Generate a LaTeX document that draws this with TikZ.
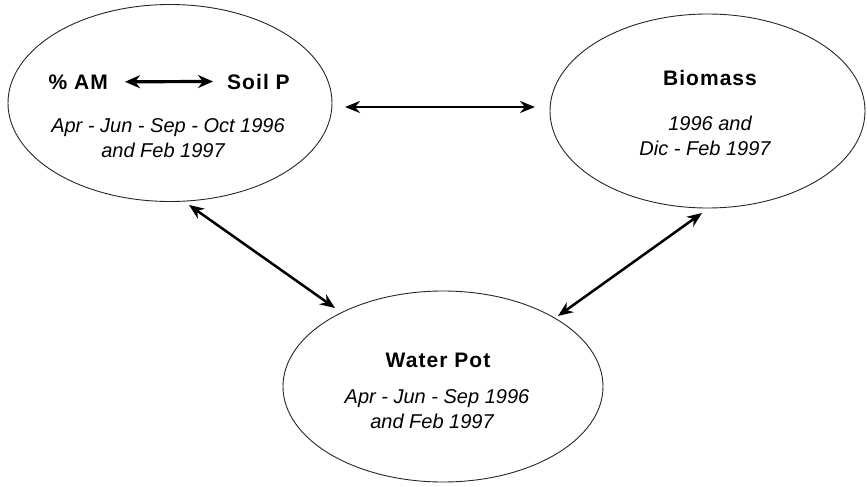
\documentclass[tikz,border=0pt]{standalone}
\usepackage{fontspec}
\setmainfont{Liberation Sans}
\newfontfamily\titlefont[LetterSpace=5]{Liberation Sans}
\usetikzlibrary{shapes.geometric,arrows.meta}
\tikzset{
  bubble/.style={draw=black!85, line width=0.9pt, ellipse, inner sep=0pt},
  ttl/.style={inner sep=0pt, font=\titlefont\fontsize{21}{25}\selectfont\bfseries},
  sub/.style={inner sep=0pt, anchor=base, font=\fontsize{20}{24}\selectfont\itshape},
  bigarr/.style={line width=2.5pt, {Stealth[length=15pt,width=12pt]}-{Stealth[length=15pt,width=12pt]}},
  inarr/.style={line width=3.2pt, {Stealth[length=15pt,width=13pt]}-{Stealth[length=15pt,width=13pt]}}
}
\begin{document}
\begin{tikzpicture}[x=1pt,y=-1pt]
\useasboundingbox (0,0) rectangle (867,487);
% ellipses
\node[bubble, minimum width=324pt, minimum height=197pt] (L) at (170,103) {};
\node[bubble, minimum width=315pt, minimum height=194pt] (R) at (707.5,111) {};
\node[bubble, minimum width=320pt, minimum height=191pt] (B) at (443,386.5) {};
% left texts
\node[ttl, anchor=base east] (am) at (108,89) {\% AM};
\node[ttl, anchor=base west] (soil) at (227,89) {Soil P};
\node[sub] (l1) at (168,132) {Apr - Jun - Sep - Oct 1996};
\node[sub] (l2) at (163,157) {and Feb 1997};
% right texts
\node[ttl, anchor=base] (bio) at (710,85) {Biomass};
\node[sub] (r1) at (710,130) {1996 and};
\node[sub] (r2) at (705,155) {Dic - Feb 1997};
% bottom texts
\node[ttl, anchor=base] (wp) at (438,367) {Water Pot};
\node[sub] (b1) at (437,403) {Apr - Jun - Sep 1996};
\node[sub] (b2) at (432,428) {and Feb 1997};
% connector end points
\coordinate (hL) at (345,107);
\coordinate (hR) at (535,107);
\coordinate (dL1) at (189,205);
\coordinate (dL2) at (335,308);
\coordinate (dR1) at (702,213);
\coordinate (dR2) at (558,316);
% connectors
\draw[inarr] ([xshift=17pt]am.east) -- ([xshift=-14pt]soil.west);
\draw[bigarr] (hL) -- (hR);
\draw[bigarr] (dL1) -- (dL2);
\draw[bigarr] (dR1) -- (dR2);
\end{tikzpicture}
\end{document}
